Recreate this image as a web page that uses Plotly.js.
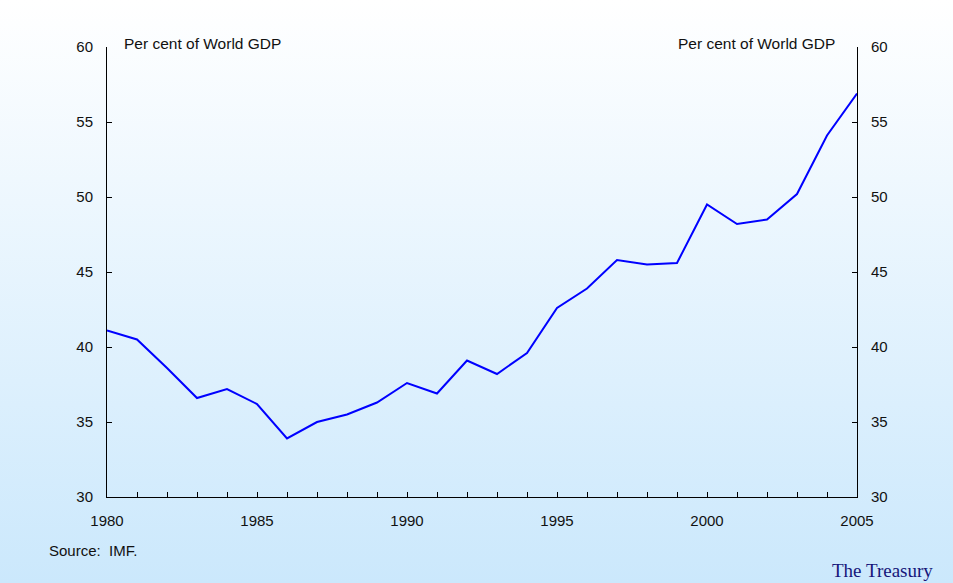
<!DOCTYPE html>
<html>
<head>
<meta charset="utf-8">
<script src="https://cdn.plot.ly/plotly-3.0.1.min.js"></script>
<style>
html,body{margin:0;padding:0;width:953px;height:583px;overflow:hidden;
background:linear-gradient(to bottom,#ffffff 0%,#cbe8fc 100%);}
#chart{width:953px;height:583px;}
</style>
</head>
<body>
<div id="chart"></div>
<script>
const years = [1980,1981,1982,1983,1984,1985,1986,1987,1988,1989,1990,1991,1992,1993,1994,1995,1996,1997,1998,1999,2000,2001,2002,2003,2004,2005];
const shareOfWorldGDP = [41.1,40.5,38.6,36.6,37.2,36.2,33.9,35.0,35.5,36.3,37.6,36.9,39.1,38.2,39.6,42.6,43.9,45.8,45.5,45.6,49.5,48.2,48.5,50.2,54.1,56.9];
const xTickVals = [1980,1985,1990,1995,2000,2005];
const yTickVals = [30,35,40,45,50,55,60];
const unitLabel = "Per cent of World GDP";
const sourceNote = "Source:  IMF.";
const brand = "The Treasury";

const tickFont = {family:"Liberation Sans, Arial, sans-serif", size:15, color:"#111"};
const unitFont = {family:"Liberation Sans, Arial, sans-serif", size:15.5, color:"#111"};

const traces = [
  {x:years, y:shareOfWorldGDP, type:"scatter", mode:"lines",
   line:{color:"#0000ff", width:2}, hoverinfo:"x+y", showlegend:false},
  {x:years, y:shareOfWorldGDP, type:"scatter", mode:"lines", yaxis:"y2",
   line:{color:"rgba(0,0,0,0)", width:0}, hoverinfo:"skip", showlegend:false}
];

const yBase = {range:[30,60], tickvals:yTickVals, ticks:"inside", ticklen:5,
  tickcolor:"#000", showline:true, linecolor:"#000", linewidth:1, showgrid:false,
  zeroline:false, tickfont:tickFont, ticklabelstandoff:10, fixedrange:true};

const layout = {
  width:953, height:583,
  paper_bgcolor:"rgba(0,0,0,0)", plot_bgcolor:"rgba(0,0,0,0)",
  margin:{l:107, r:96, t:47, b:86},
  xaxis:{range:[1980,2005], tickmode:"array", tickvals:years,
    ticktext:years.map(y => xTickVals.includes(y) ? String(y) : ""),
    ticks:"inside", ticklen:5, tickcolor:"#000", showline:true, linecolor:"#000",
    linewidth:1, showgrid:false, zeroline:false, tickfont:tickFont,
    ticklabelstandoff:10, fixedrange:true},
  yaxis:Object.assign({}, yBase, {side:"left"}),
  yaxis2:Object.assign({}, yBase, {side:"right", overlaying:"y"}),
  annotations:[
    {text:unitLabel, xref:"paper", yref:"paper", x:0, y:1, xshift:15, yshift:4,
     xanchor:"left", yanchor:"middle", showarrow:false, font:unitFont},
    {text:unitLabel, xref:"paper", yref:"paper", x:1, y:1, xshift:-20, yshift:4,
     xanchor:"right", yanchor:"middle", showarrow:false, font:unitFont},
    {text:sourceNote, xref:"paper", yref:"paper", x:0, y:0, xshift:-60, yshift:-53,
     xanchor:"left", yanchor:"middle", showarrow:false,
     font:{family:"Liberation Sans, Arial, sans-serif", size:15, color:"#111"}},
    {text:brand, xref:"paper", yref:"paper", x:1, y:0, xshift:78, yshift:-73,
     xanchor:"right", yanchor:"middle", showarrow:false,
     font:{family:"Liberation Serif, Times New Roman, serif", size:19, color:"#16167a"}}
  ]
};

Plotly.newPlot("chart", traces, layout, {displayModeBar:false, staticPlot:true});
</script>
</body>
</html>
